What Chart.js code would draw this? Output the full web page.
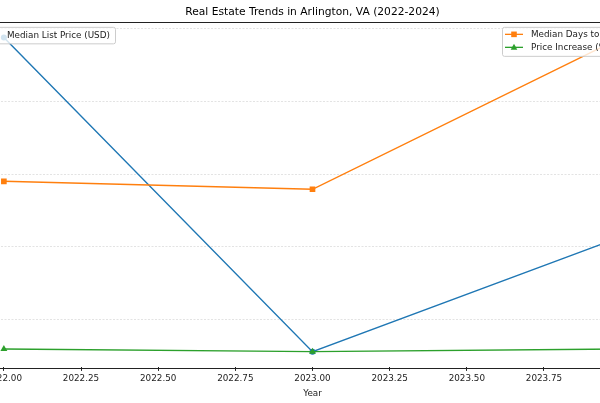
<!DOCTYPE html>
<html>
<head>
<meta charset="utf-8">
<script src="https://cdn.jsdelivr.net/npm/chart.js@4"></script>
<style>
  html, body { margin: 0; padding: 0; background: #fff; overflow: hidden; }
  #wrap { position: absolute; left: -37px; top: 0; width: 699px; height: 403px; }
</style>
</head>
<body>
<div id="wrap"><canvas id="chart" width="699" height="403"></canvas></div>
<script>
// Data
const years = [2022, 2023, 2024];
const listPrice = [797000, 689000, 728500];
const daysToSell = [35, 33.5, 62];
const priceIncrease = [3.5, 3, 3.5];

const seriesNames = ['Median List Price (USD)', 'Median Days to Sell', 'Price Increase (%)'];
const xStep = 0.25;
const priceStep = 25000;

const FONT = 'DejaVu Sans';
const BLUE = '#1f77b4', ORANGE = '#ff7f0e', GREEN = '#2ca02c';

// matplotlib-like 5% margins
function padded(vals) {
    const lo = Math.min(...vals), hi = Math.max(...vals);
    const p = (hi - lo) * 0.05;
    return { min: lo - p, max: hi + p };
}
const xr = padded(years);
const pr = padded(listPrice);
const sr = padded(daysToSell.concat(priceIncrease));

// ticks only on whole steps inside the range
function stepTicks(step) {
    return (scale) => {
        const out = [];
        for (let k = Math.ceil(scale.min / step - 1e-9); k * step <= scale.max + 1e-9; k++) {
            out.push({ value: +(k * step).toFixed(6) });
        }
        scale.ticks = out;
    };
}

const pts = (arr) => years.map((y, i) => ({ x: y, y: arr[i] }));

// frame + legends
const framePlugin = {
    id: 'frame',
    afterDatasetsDraw(chart) {
        const { ctx, chartArea: a } = chart;
        ctx.save();
        ctx.strokeStyle = '#222';
        ctx.lineWidth = 1;
        ctx.strokeRect(Math.round(a.left) + 0.5, Math.round(a.top) + 0.5,
            Math.round(a.right - a.left), Math.round(a.bottom - a.top));

        ctx.font = '8.8px "' + FONT + '"';
        ctx.textBaseline = 'middle';

        function box(x, y, w, h) {
            ctx.beginPath();
            ctx.roundRect(x + 0.5, y + 0.5, w, h, 2);
            ctx.fillStyle = 'rgba(255,255,255,0.8)';
            ctx.fill();
            ctx.strokeStyle = '#cccccc';
            ctx.lineWidth = 1;
            ctx.stroke();
        }
        function marker(style, color, x, y) {
            ctx.fillStyle = color;
            ctx.beginPath();
            if (style === 'circle') ctx.arc(x, y, 3, 0, Math.PI * 2);
            else if (style === 'rect') ctx.rect(x - 2.8, y - 2.8, 5.6, 5.6);
            else { ctx.moveTo(x, y - 3.5); ctx.lineTo(x + 3.3, y + 2.5); ctx.lineTo(x - 3.3, y + 2.5); ctx.closePath(); }
            ctx.fill();
        }
        function entry(label, color, style, tx, y) {
            ctx.strokeStyle = color;
            ctx.lineWidth = 1.3;
            ctx.beginPath();
            ctx.moveTo(tx - 26, y);
            ctx.lineTo(tx - 8, y);
            ctx.stroke();
            marker(style, color, tx - 17, y);
            ctx.fillStyle = '#222';
            ctx.fillText(label, tx, y + 0.5);
        }

        // left legend
        const l1 = a.left + 5;
        box(l1, a.top + 5, 137, 16.5);
        entry(seriesNames[0], BLUE, 'circle', l1 + 29, a.top + 13);

        // right legend
        const w2 = 145;
        const l2 = a.right - 5 - w2;
        box(l2, a.top + 5, w2, 29);
        entry(seriesNames[1], ORANGE, 'rect', l2 + 29, a.top + 12.5);
        entry(seriesNames[2], GREEN, 'triangle', l2 + 29, a.top + 25.5);
        ctx.restore();
    }
};

new Chart(document.getElementById('chart'), {
    type: 'line',
    data: {
        datasets: [
            {
                label: seriesNames[0], data: pts(listPrice), yAxisID: 'y', order: 3,
                borderColor: BLUE, backgroundColor: BLUE, borderWidth: 1.4,
                pointStyle: 'circle', pointRadius: 3, pointBorderWidth: 0
            },
            {
                label: seriesNames[1], data: pts(daysToSell), yAxisID: 'y2', order: 2,
                borderColor: ORANGE, backgroundColor: ORANGE, borderWidth: 1.4,
                pointStyle: 'rect', pointRadius: 4, pointBorderWidth: 0
            },
            {
                label: seriesNames[2], data: pts(priceIncrease), yAxisID: 'y2', order: 1,
                borderColor: GREEN, backgroundColor: GREEN, borderWidth: 1.4,
                pointStyle: 'triangle', pointRadius: 4, pointBorderWidth: 0
            }
        ]
    },
    options: {
        responsive: false,
        animation: false,
        layout: { padding: { left: 10, right: 10, top: 0, bottom: 4 } },
        plugins: {
            legend: { display: false },
            tooltip: { enabled: false },
            title: {
                display: true,
                text: 'Real Estate Trends in Arlington, VA (2022-2024)',
                color: '#000',
                font: { family: FONT, size: 10.7, weight: 'normal' },
                padding: { top: 6, bottom: 3 }
            }
        },
        scales: {
            x: {
                type: 'linear',
                min: xr.min, max: xr.max,
                afterBuildTicks: stepTicks(xStep),
                ticks: {
                    color: '#222',
                    padding: 3,
                    maxRotation: 0,
                    autoSkip: false,
                    font: { family: FONT, size: 8.8 },
                    callback: (v) => Number(v).toFixed(2)
                },
                grid: { drawOnChartArea: false, drawTicks: true, tickLength: 3.5, color: '#222' },
                border: { display: false },
                title: {
                    display: true, text: 'Year', color: '#222',
                    font: { family: FONT, size: 8.8 },
                    padding: { top: 1, bottom: 0 }
                }
            },
            y: {
                position: 'left',
                min: pr.min, max: pr.max,
                afterBuildTicks: stepTicks(priceStep),
                ticks: { display: false, autoSkip: false },
                grid: { display: true, drawOnChartArea: true, color: 'rgba(176,176,176,0.45)', lineWidth: 0.8, drawTicks: false },
                border: { display: false, dash: [2, 1.5] }
            },
            y2: {
                display: false,
                position: 'right',
                min: sr.min, max: sr.max,
                grid: { display: false }
            }
        }
    },
    plugins: [framePlugin]
});
</script>
</body>
</html>
